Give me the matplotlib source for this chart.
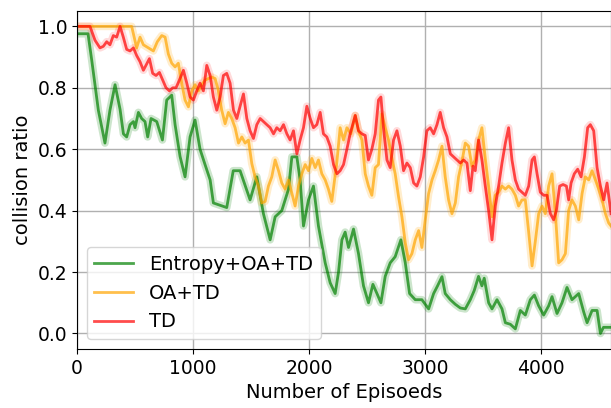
import matplotlib
matplotlib.use("Agg")
import matplotlib.pyplot as plt

# Entropy+OA+TD
green_x = [0, 95, 127, 184, 241, 284, 328, 371, 400, 428, 457, 486, 500, 529, 557, 586, 609,
           638, 687, 736, 773, 816, 845, 888, 931, 974, 1017, 1060, 1103, 1147, 1175, 1290,
           1346, 1405, 1491, 1549, 1606, 1664, 1707, 1764, 1822, 1851, 1894, 1922, 1951, 1994,
           2037, 2080, 2138, 2181, 2224, 2253, 2282, 2310, 2339, 2382, 2425, 2468, 2511, 2549,
           2584, 2618, 2655, 2698, 2741, 2790, 2828, 2865, 2914, 2971, 3029, 3072, 3106, 3144,
           3172, 3216, 3259, 3302, 3345, 3388, 3422, 3459, 3488, 3508, 3546, 3575, 3618, 3661,
           3690, 3733, 3776, 3819, 3862, 3905, 3940, 3977, 4020, 4063, 4092, 4135, 4178, 4221,
           4264, 4322, 4365, 4394, 4437, 4480, 4509, 4535, 4600]
green_y = [0.976, 0.976, 0.89, 0.727, 0.62, 0.727, 0.81, 0.73, 0.65, 0.64, 0.68, 0.69, 0.67, 0.72,
           0.70, 0.69, 0.64, 0.70, 0.69, 0.63, 0.76, 0.776, 0.68, 0.576, 0.51, 0.64, 0.695, 0.60,
           0.55, 0.50, 0.425, 0.41, 0.53, 0.53, 0.435, 0.51, 0.39, 0.305, 0.38, 0.40, 0.47, 0.575,
           0.575, 0.50, 0.35, 0.435, 0.48, 0.35, 0.23, 0.165, 0.13, 0.20, 0.305, 0.33, 0.28, 0.34,
           0.26, 0.155, 0.10, 0.16, 0.13, 0.10, 0.186, 0.23, 0.25, 0.305, 0.23, 0.13, 0.11, 0.11,
           0.08, 0.13, 0.155, 0.185, 0.13, 0.11, 0.095, 0.083, 0.08, 0.11, 0.14, 0.186, 0.155,
           0.18, 0.10, 0.08, 0.11, 0.08, 0.035, 0.03, 0.015, 0.075, 0.06, 0.11, 0.125, 0.09, 0.06,
           0.09, 0.12, 0.065, 0.10, 0.15, 0.11, 0.13, 0.07, 0.035, 0.075, 0.075, 0.0, 0.02, 0.02]

# OA+TD
orange_x = [0, 471, 514, 543, 572, 615, 658, 692, 730, 759, 787, 816, 845, 873, 902, 931, 960,
            989, 1017, 1046, 1075, 1103, 1132, 1161, 1190, 1218, 1247, 1276, 1304, 1333, 1362,
            1391, 1420, 1448, 1477, 1506, 1534, 1563, 1592, 1621, 1649, 1678, 1707, 1736, 1764,
            1793, 1822, 1851, 1879, 1908, 1937, 1966, 1994, 2023, 2052, 2080, 2109, 2138, 2166,
            2195, 2239, 2267, 2296, 2325, 2359, 2397, 2425, 2454, 2483, 2511, 2540, 2569, 2597,
            2626, 2655, 2684, 2713, 2741, 2770, 2799, 2828, 2856, 2885, 2914, 2943, 2971, 3000,
            3029, 3058, 3086, 3115, 3144, 3172, 3201, 3230, 3259, 3287, 3316, 3345, 3373, 3402,
            3431, 3459, 3488, 3517, 3546, 3575, 3603, 3632, 3661, 3690, 3718, 3747, 3776, 3804,
            3833, 3862, 3891, 3920, 3948, 3977, 4006, 4034, 4063, 4092, 4121, 4149, 4178, 4207,
            4235, 4264, 4293, 4322, 4351, 4379, 4408, 4437, 4466, 4494, 4523, 4552, 4580, 4600]
orange_y = [1.0, 1.0, 0.93, 0.965, 0.94, 0.93, 0.92, 0.95, 0.97, 0.965, 0.91, 0.88, 0.868, 0.88,
            0.815, 0.76, 0.738, 0.79, 0.81, 0.79, 0.81, 0.825, 0.83, 0.835, 0.83, 0.79, 0.727,
            0.683, 0.72, 0.70, 0.67, 0.62, 0.64, 0.62, 0.63, 0.553, 0.51, 0.48, 0.425, 0.43,
            0.48, 0.51, 0.565, 0.53, 0.49, 0.47, 0.50, 0.456, 0.415, 0.48, 0.52, 0.55, 0.53,
            0.57, 0.54, 0.565, 0.52, 0.50, 0.47, 0.43, 0.56, 0.67, 0.63, 0.67, 0.65, 0.71, 0.66,
            0.63, 0.52, 0.48, 0.45, 0.54, 0.55, 0.715, 0.67, 0.63, 0.57, 0.52, 0.445, 0.38,
            0.295, 0.24, 0.26, 0.305, 0.335, 0.28, 0.37, 0.456, 0.50, 0.53, 0.565, 0.61, 0.51,
            0.435, 0.39, 0.425, 0.51, 0.56, 0.62, 0.61, 0.545, 0.565, 0.63, 0.67, 0.57, 0.48,
            0.38, 0.45, 0.46, 0.48, 0.47, 0.48, 0.47, 0.45, 0.415, 0.435, 0.435, 0.33, 0.22,
            0.30, 0.39, 0.415, 0.39, 0.48, 0.52, 0.39, 0.23, 0.24, 0.26, 0.40, 0.435, 0.415,
            0.37, 0.456, 0.51, 0.50, 0.53, 0.50, 0.47, 0.435, 0.39, 0.36, 0.35]

# TD
red_x = [0, 112, 155, 198, 227, 256, 284, 313, 342, 371, 399, 428, 457, 486, 514, 543, 572, 601,
         624, 652, 681, 710, 738, 767, 796, 825, 853, 882, 917, 946, 974, 1003, 1032, 1060, 1089,
         1118, 1147, 1175, 1204, 1233, 1261, 1290, 1319, 1348, 1377, 1405, 1434, 1463, 1491,
         1520, 1549, 1578, 1606, 1635, 1664, 1693, 1721, 1750, 1779, 1808, 1836, 1865, 1894,
         1922, 1951, 1980, 2009, 2037, 2066, 2095, 2123, 2152, 2181, 2210, 2239, 2267, 2296,
         2325, 2353, 2397, 2425, 2454, 2483, 2511, 2540, 2569, 2597, 2618, 2640, 2670, 2698,
         2727, 2756, 2785, 2813, 2842, 2871, 2900, 2928, 2957, 2986, 3014, 3043, 3072, 3101,
         3129, 3158, 3187, 3216, 3244, 3273, 3302, 3330, 3359, 3388, 3411, 3431, 3459, 3488,
         3517, 3546, 3575, 3603, 3632, 3661, 3690, 3718, 3747, 3776, 3804, 3833, 3862, 3891,
         3920, 3940, 3963, 3991, 4020, 4049, 4078, 4106, 4129, 4158, 4187, 4216, 4235, 4256,
         4284, 4313, 4342, 4371, 4399, 4422, 4451, 4480, 4509, 4537, 4566, 4600]
red_y = [1.0, 1.0, 0.955, 0.93, 0.935, 0.95, 0.94, 0.97, 0.965, 1.0, 0.965, 0.925, 0.92, 0.93,
         0.905, 0.885, 0.857, 0.878, 0.895, 0.847, 0.84, 0.85, 0.825, 0.80, 0.79, 0.80, 0.80,
         0.825, 0.857, 0.815, 0.77, 0.76, 0.79, 0.815, 0.79, 0.873, 0.84, 0.77, 0.727, 0.77,
         0.84, 0.847, 0.815, 0.727, 0.70, 0.74, 0.78, 0.70, 0.66, 0.635, 0.68, 0.70, 0.69, 0.68,
         0.67, 0.65, 0.67, 0.66, 0.68, 0.65, 0.63, 0.66, 0.585, 0.63, 0.67, 0.74, 0.70, 0.67,
         0.68, 0.72, 0.65, 0.64, 0.61, 0.55, 0.52, 0.53, 0.55, 0.60, 0.65, 0.71, 0.66, 0.65,
         0.645, 0.565, 0.60, 0.65, 0.76, 0.77, 0.67, 0.565, 0.54, 0.63, 0.66, 0.61, 0.53, 0.555,
         0.54, 0.49, 0.48, 0.51, 0.575, 0.66, 0.67, 0.65, 0.68, 0.72, 0.67, 0.64, 0.585, 0.575,
         0.565, 0.555, 0.565, 0.555, 0.465, 0.545, 0.53, 0.63, 0.565, 0.48, 0.40, 0.305, 0.415,
         0.48, 0.555, 0.62, 0.67, 0.565, 0.50, 0.47, 0.46, 0.45, 0.48, 0.565, 0.575, 0.52, 0.46,
         0.45, 0.45, 0.39, 0.37, 0.40, 0.48, 0.485, 0.48, 0.435, 0.49, 0.52, 0.535, 0.51, 0.575,
         0.67, 0.68, 0.66, 0.54, 0.48, 0.435, 0.49, 0.39]

labels = ["Entropy+OA+TD", "OA+TD", "TD"]
colors = ["green", "orange", "red"]

fig = plt.figure(figsize=(6.11, 4.08), dpi=100)
ax = fig.add_axes([0.126, 0.145, 0.874, 0.828])

series = [(green_x, green_y), (orange_x, orange_y), (red_x, red_y)]
# light wide band underneath, then the line itself
for (xs, ys), c in zip(series, colors):
    ax.plot(xs, ys, color=c, alpha=0.2 if c != "red" else 0.14, linewidth=5.5,
            solid_capstyle="round")
for (xs, ys), c, lab in zip(series, colors, labels):
    ax.plot(xs, ys, color=c, alpha=0.7, linewidth=2, label=lab)

ax.set_xlim(0, 4600)
ax.set_ylim(-0.05, 1.05)
ax.set_xticks([0, 1000, 2000, 3000, 4000])
ax.set_yticks([0.0, 0.2, 0.4, 0.6, 0.8, 1.0])
ax.grid(True, color="#b0b0b0", linewidth=1)
ax.tick_params(labelsize=13.5)
ax.set_xlabel("Number of Episoeds", fontsize=14)
ax.set_ylabel("collision ratio", fontsize=14)
ax.legend(loc="lower left", fontsize=14)

fig.savefig("out.png", dpi=100)
